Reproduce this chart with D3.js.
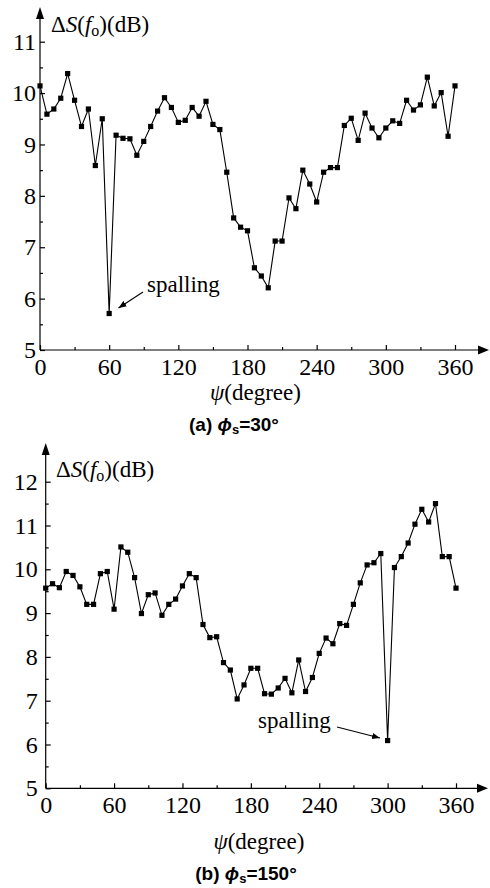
<!DOCTYPE html>
<html>
<head>
<meta charset="utf-8">
<script src="https://cdn.jsdelivr.net/npm/d3@7"></script>
<style>
  body { margin: 0; background: #fff; }
  svg { display: block; }
</style>
</head>
<body>
<div id="chart"></div>
<script>
/* DATA */
// angle psi (degree), every 6 degrees
const psi = d3.range(0, 361, 6);

// (a) phi_s = 30
const dsA = [10.14, 9.59, 9.69, 9.90, 10.38, 9.86, 9.35, 9.69, 8.59, 9.50,
  5.71, 9.18, 9.12, 9.11, 8.79, 9.06, 9.35, 9.65, 9.91, 9.72,
  9.43, 9.47, 9.72, 9.55, 9.84, 9.39, 9.29, 8.46, 7.57, 7.39,
  7.32, 6.60, 6.44, 6.21, 7.12, 7.12, 7.96, 7.75, 8.50, 8.23,
  7.88, 8.46, 8.55, 8.55, 9.37, 9.51, 9.08, 9.61, 9.32, 9.13,
  9.32, 9.46, 9.41, 9.86, 9.67, 9.77, 10.31, 9.75, 10.01, 9.16,
  10.14];

// (b) phi_s = 150
const dsB = [9.57, 9.67, 9.58, 9.95, 9.86, 9.60, 9.20, 9.20, 9.90, 9.95,
  9.09, 10.51, 10.39, 9.81, 8.99, 9.42, 9.46, 8.95, 9.20, 9.32,
  9.62, 9.90, 9.81, 8.74, 8.44, 8.46, 7.87, 7.70, 7.04, 7.36,
  7.74, 7.74, 7.16, 7.15, 7.29, 7.51, 7.18, 7.93, 7.21, 7.53,
  8.08, 8.43, 8.30, 8.76, 8.72, 9.20, 9.69, 10.10, 10.15, 10.36,
  6.09, 10.04, 10.29, 10.60, 11.03, 11.37, 11.08, 11.50, 10.29, 10.29,
  9.57];

const xTicks = [0, 60, 120, 180, 240, 300, 360];
const xMinor = [30, 90, 150, 210, 270, 330];
const yTicksA = [5, 6, 7, 8, 9, 10, 11];
const yTicksB = [5, 6, 7, 8, 9, 10, 11, 12];

const panels = [
  { values: dsA, yDomain: [5, 11], yTicks: yTicksA, caption: "(a) ", phi: "30°",
    x0: 40, x1: 455, yBottom: 350, yTop: 41.7, arrowTop: 7, arrowRight: 489,
    labelPad: 4, spallText: [147, 292], spallFrom: [143, 292], spallTo: [118.5, 308],
    yTitle: [51, 32], xTitleY: 400, capX: 234, capY: 431 },
  { values: dsB, yDomain: [5, 12], yTicks: yTicksB, caption: "(b) ", phi: "150°",
    x0: 45.7, x1: 456, yBottom: 788.3, yTop: 481.7, arrowTop: 443, arrowRight: 488,
    labelPad: 8, spallText: [258, 728], spallFrom: [337, 727], spallTo: [380, 738],
    yTitle: [56, 477], xTitleY: 849, capX: 246, capY: 880 }
];

const svg = d3.select("#chart").append("svg")
  .attr("width", 490)
  .attr("height", 888);

svg.append("defs").append("marker")
  .attr("id", "head")
  .attr("viewBox", "0 0 10 10")
  .attr("refX", 10).attr("refY", 5)
  .attr("markerWidth", 8).attr("markerHeight", 8)
  .attr("markerUnits", "userSpaceOnUse")
  .attr("orient", "auto")
  .append("path")
  .attr("d", "M0,1 L10,5 L0,9 Z")
  .attr("fill", "#000");

panels.forEach(p => {
  const x = d3.scaleLinear().domain([0, 360]).range([p.x0, p.x1]);
  const y = d3.scaleLinear().domain(p.yDomain).range([p.yBottom, p.yTop]);
  const g = svg.append("g");

  // axis lines with arrows
  g.append("line")
    .attr("x1", p.x0).attr("y1", p.yBottom)
    .attr("x2", p.arrowRight - 9).attr("y2", p.yBottom)
    .attr("stroke", "#000").attr("stroke-width", 1.2);
  g.append("path")
    .attr("d", `M${p.arrowRight},${p.yBottom} L${p.arrowRight - 11},${p.yBottom - 4.5} L${p.arrowRight - 11},${p.yBottom + 4.5} Z`)
    .attr("fill", "#000");
  g.append("line")
    .attr("x1", p.x0).attr("y1", p.yBottom)
    .attr("x2", p.x0).attr("y2", p.arrowTop + 9)
    .attr("stroke", "#000").attr("stroke-width", 1.2);
  g.append("path")
    .attr("d", `M${p.x0},${p.arrowTop} L${p.x0 - 4},${p.arrowTop + 12} L${p.x0 + 4},${p.arrowTop + 12} Z`)
    .attr("fill", "#000");

  // x axis
  const xAxis = g.append("g")
    .attr("transform", `translate(0,${p.yBottom})`)
    .call(d3.axisBottom(x).tickValues(xTicks).tickFormat(d3.format("d"))
      .tickSizeInner(-5).tickSizeOuter(0).tickPadding(8));
  xAxis.select(".domain").remove();

  const xAxisMinor = g.append("g")
    .attr("transform", `translate(0,${p.yBottom})`)
    .call(d3.axisBottom(x).tickValues(xMinor).tickSizeInner(-3).tickSizeOuter(0).tickFormat(""));
  xAxisMinor.select(".domain").remove();

  // y axis
  const yMinor = d3.range(p.yDomain[0] + 0.5, p.yDomain[1], 1);
  const yAxis = g.append("g")
    .attr("transform", `translate(${p.x0},0)`)
    .call(d3.axisLeft(y).tickValues(p.yTicks).tickFormat(d3.format("d"))
      .tickSizeInner(-5).tickSizeOuter(0).tickPadding(p.labelPad));
  yAxis.select(".domain").remove();

  const yAxisMinor = g.append("g")
    .attr("transform", `translate(${p.x0},0)`)
    .call(d3.axisLeft(y).tickValues(yMinor).tickSizeInner(-3).tickSizeOuter(0).tickFormat(""));
  yAxisMinor.select(".domain").remove();

  g.selectAll(".tick line").attr("stroke", "#000").attr("stroke-width", 1.2);
  g.selectAll(".tick text")
    .style("font-family", "'Liberation Serif', serif")
    .style("font-size", "24px")
    .attr("fill", "#000");

  // series
  const line = d3.line()
    .x((d, i) => x(psi[i]))
    .y(d => y(d));

  g.append("path")
    .datum(p.values)
    .attr("d", line)
    .attr("fill", "none")
    .attr("stroke", "#000")
    .attr("stroke-width", 1.1);

  g.selectAll("rect.pt")
    .data(p.values)
    .join("rect")
    .attr("class", "pt")
    .attr("x", (d, i) => x(psi[i]) - 2.6)
    .attr("y", d => y(d) - 2.6)
    .attr("width", 5.2)
    .attr("height", 5.2)
    .attr("fill", "#000");

  // y title
  const yt = g.append("text")
    .attr("x", p.yTitle[0]).attr("y", p.yTitle[1])
    .style("font-family", "'Liberation Serif', serif")
    .style("font-size", "23px");
  yt.append("tspan").text("Δ");
  yt.append("tspan").attr("font-style", "italic").text("S");
  yt.append("tspan").text("(");
  yt.append("tspan").attr("font-style", "italic").text("f");
  yt.append("tspan").style("font-size", "16px").attr("dy", 4).text("o");
  yt.append("tspan").attr("dy", -4).text(")(dB)");

  // x title
  const xt = g.append("text")
    .attr("x", (p.x0 + p.x1) / 2 + 8).attr("y", p.xTitleY)
    .attr("text-anchor", "middle")
    .style("font-family", "'Liberation Serif', serif")
    .style("font-size", "23px");
  xt.append("tspan").attr("font-style", "italic").text("ψ");
  xt.append("tspan").text("(degree)");

  // spalling annotation
  g.append("text")
    .attr("x", p.spallText[0])
    .attr("y", p.spallText[1])
    .style("font-family", "'Liberation Serif', serif")
    .style("font-size", "23px")
    .text("spalling");
  g.append("line")
    .attr("x1", p.spallFrom[0]).attr("y1", p.spallFrom[1])
    .attr("x2", p.spallTo[0]).attr("y2", p.spallTo[1])
    .attr("stroke", "#000").attr("stroke-width", 1.1)
    .attr("marker-end", "url(#head)");

  // caption
  const cap = g.append("text")
    .attr("x", p.capX).attr("y", p.capY)
    .attr("text-anchor", "middle")
    .style("font-family", "'Liberation Sans', Arial, sans-serif")
    .style("font-weight", "bold")
    .style("font-size", "19px");
  cap.append("tspan").text(p.caption);
  cap.append("tspan").attr("font-style", "italic").text("ϕ");
  cap.append("tspan").style("font-size", "13px").attr("dy", 3).text("s");
  cap.append("tspan").attr("dy", -3).text("=" + p.phi);
});
</script>
</body>
</html>
